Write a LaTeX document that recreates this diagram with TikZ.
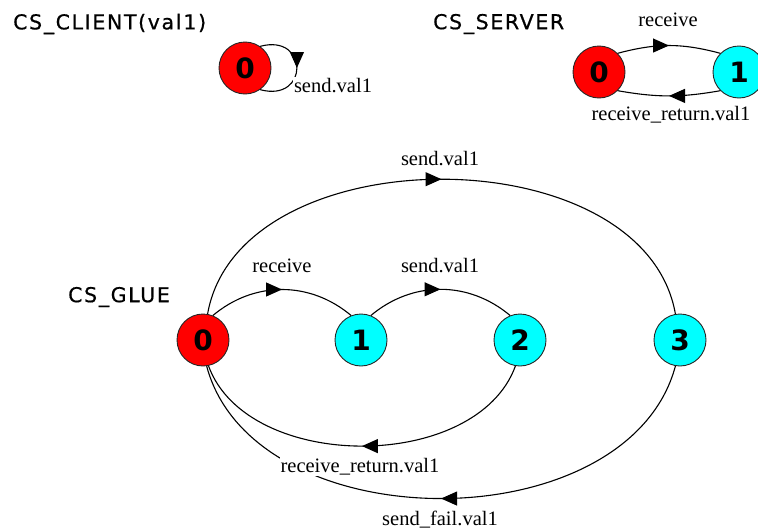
\documentclass[tikz,border=0pt]{standalone}
\usepackage{fontspec}
\setmainfont{Liberation Serif}
\newfontfamily\titlefont{DejaVu Sans}[LetterSpace=8,FakeBold=0.6]
\newfontfamily\statefont{DejaVu Sans Bold}
\usetikzlibrary{arrows.meta,decorations.markings}
\definecolor{statered}{RGB}{255,0,0}
\definecolor{statecyan}{RGB}{0,255,255}

\tikzset{
  state/.style={circle, draw=black!85, line width=0.9pt, minimum size=52pt,
    inner sep=0pt, font=\statefont\fontsize{28}{30}\selectfont},
  start/.style={state, fill=statered},
  other/.style={state, fill=statecyan},
  trans/.style={line width=1.1pt, postaction={decorate},
    decoration={markings, mark=at position 0.5 with {\arrow{Triangle[length=16pt,width=14pt]}}}},
  lbl/.style={anchor=base, inner sep=1pt, fill=white,
    font=\fontsize{20.5}{24}\selectfont},
  title/.style={anchor=west, inner sep=0pt, font=\titlefont\fontsize{20.5}{24}\selectfont}
}

\begin{document}
\begin{tikzpicture}[x=1pt,y=1pt]
        \useasboundingbox (0,0) rectangle (758,-530);

        % Titoli dei processi
        \node[title] (tclient) at (13,-24) {CS\_CLIENT(val\kern2pt 1)};
        \node[title] (tserver) at (433,-24) {CS\_SERVER};
        \node[title] (tglue) at (68,-297) {CS\_GLUE};

        % Stati
        \node[start] (c0) at (245,-68) {0};
        \node[start] (s0) at (599,-72) {0};
        \node[other] (s1) at (739,-72) {1};
        \node[start] (g0) at (203,-340) {0};
        \node[other] (g1) at (361,-340) {1};
        \node[other] (g2) at (520,-340) {2};
        \node[other] (g3) at (680,-340) {3};

        % Transizioni
        \draw[trans] (c0.55) to[out=15,in=-15,looseness=3] (c0.-55);
        \draw[trans] (s0.45) to[out=15,in=165] (s1.135);
        \draw[trans] (s1.-135) to[out=-170,in=-10] (s0.-45);
        \draw[trans] (g0.68) to[out=40,in=140] (g1.112);
        \draw[trans] (g1.68) to[out=40,in=140] (g2.112);
        \draw[trans] (g0.80) to[out=80,in=100] (g3.100);
        \draw[trans] (g2.-100) to[out=-110,in=-70,looseness=0.95] (g0.-78);
        \draw[trans] (g3.-100) to[out=-105,in=-75] (g0.-82);

        % Etichette
        \node[lbl] (lc) at (333,-92) {send.val1};
        \node[lbl] (ls1) at (668,-26) {receive};
        \node[lbl] (ls2) at (671,-120) {receive\_return.val1};
        \node[lbl] (lg1) at (282,-272) {receive};
        \node[lbl] (lg2) at (440,-272) {send.val1};
        \node[lbl] (lg3) at (440,-165) {send.val1};
        \node[lbl] (lg4) at (360,-472) {receive\_return.val1};
        \node[lbl] (lg5) at (440,-525) {send\_fail.val1};

\end{tikzpicture}
\end{document}
